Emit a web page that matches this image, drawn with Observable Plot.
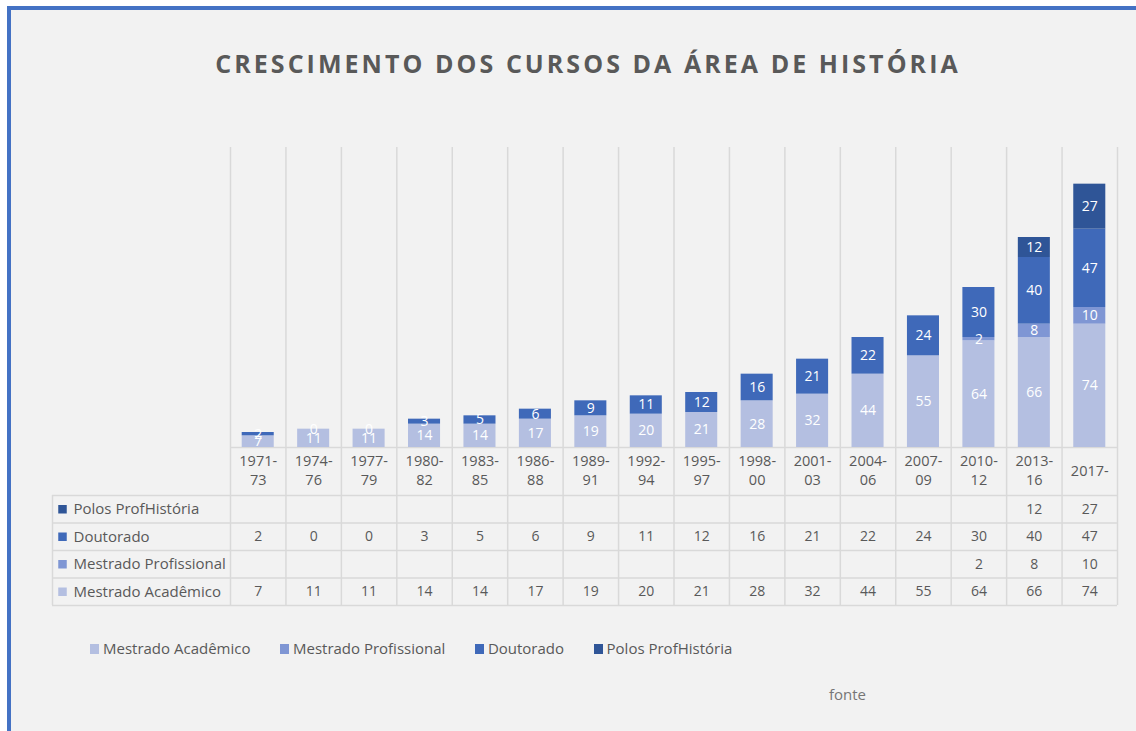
<!DOCTYPE html>
<html>
<head>
<meta charset="utf-8">
<script src="https://cdn.jsdelivr.net/npm/d3@7"></script>
<script src="https://cdn.jsdelivr.net/npm/@observablehq/plot@0.6"></script>
<style>
  html, body { margin: 0; padding: 0; background: #ffffff; }
  #page { position: relative; width: 1136px; height: 731px; overflow: hidden; background: #ffffff; font-family: "Open Sans", sans-serif; }
  #panel { position: absolute; left: 7px; top: 6px; right: 0; bottom: 0; background: #f2f2f2; border-left: 4px solid #4472c4; border-top: 4px solid #4472c4; }
  #title { position: absolute; left: 20px; top: 46px; width: 1136px; text-align: center; font-size: 25px; line-height: 34px; font-weight: 700; letter-spacing: 3.05px; color: #595959; white-space: nowrap; }
  #chart { position: absolute; left: 0; top: 100px; }
  #table { position: absolute; left: 0; top: 490px; }
  #legend { position: absolute; left: 90px; top: 638px; height: 21px; display: flex; gap: 29.5px; font-size: 15px; line-height: 21px; color: #595959; white-space: nowrap; }
  .leg { display: flex; align-items: center; }
  .leg i { display: inline-block; width: 9px; height: 10px; margin-right: 4px; margin-top: 1px; }
  #fonte { position: absolute; left: 829px; top: 684px; font-size: 15px; line-height: 20px; color: #767676; }
</style>
</head>
<body>
<div id="page">
  <div id="panel"></div>
  <div id="title">CRESCIMENTO DOS CURSOS DA ÁREA DE HISTÓRIA</div>
  <div id="chart"></div>
  <div id="table"></div>
  <div id="legend"></div>
  <div id="fonte">fonte</div>
</div>
<script>
// ---- data ----
const categoryLabels = ["1971-\n73","1974-\n76","1977-\n79","1980-\n82","1983-\n85","1986-\n88","1989-\n91","1992-\n94","1995-\n97","1998-\n00","2001-\n03","2004-\n06","2007-\n09","2010-\n12","2013-\n16","2017-"];
const seriesNames = ["Mestrado Acadêmico", "Mestrado Profissional", "Doutorado", "Polos ProfHistória"];
const mestradoAcademico    = [7, 11, 11, 14, 14, 17, 19, 20, 21, 28, 32, 44, 55, 64, 66, 74];
const mestradoProfissional = [null, null, null, null, null, null, null, null, null, null, null, null, null, 2, 8, 10];
const doutorado            = [2, 0, 0, 3, 5, 6, 9, 11, 12, 16, 21, 22, 24, 30, 40, 47];
const polosProfHistoria    = [null, null, null, null, null, null, null, null, null, null, null, null, null, null, 12, 27];
const seriesColors = ["#b4bfe1", "#7f96d4", "#3f69b9", "#2f5597"];

// ---- build tables ----
const seriesValues = [mestradoAcademico, mestradoProfissional, doutorado, polosProfHistoria];
const n = categoryLabels.length;
const rows = [];
categoryLabels.forEach((c, i) => {
  seriesNames.forEach((s, k) => {
    const v = seriesValues[k][i];
    if (v != null) rows.push({i, category: c, series: s, value: v});
  });
});
const labelData = categoryLabels.map((label, i) => ({i, label, multi: label.includes("\n")}));
// table rows from top to bottom: reversed series order
const tableOrder = seriesNames.map((s, k) => k).reverse();
const cells = [];
tableOrder.forEach((k, r) => {
  seriesValues[k].forEach((v, i) => { if (v != null) cells.push({i, r, value: v}); });
});
const rowLabels = tableOrder.map((k, r) => ({r, name: seriesNames[k], color: seriesColors[k]}));

// ---- layout ----
const W = 1136;
const frameLeft = 52, plotLeft = 230, plotRight = 1117;
const colW = (plotRight - plotLeft) / n;
const L = (plotLeft - frameLeft) / colW;
const inset = 11.7;
const grid = "#d9d9d9";
const textColor = "#595959";
const baseStyle = {background: "transparent", fontFamily: "'Open Sans', sans-serif", fontSize: "14px", color: textColor, overflow: "visible"};

const chart = Plot.plot({
  width: W, height: 395,
  marginTop: 47, marginBottom: 48, marginLeft: frameLeft, marginRight: W - plotRight,
  style: baseStyle,
  x: {type: "linear", domain: [-L, n], axis: null},
  y: {domain: [0, 180], axis: null},
  color: {domain: seriesNames, range: seriesColors},
  marks: [
    Plot.ruleX(d3.range(n + 1), {stroke: grid, strokeWidth: 1.5, insetBottom: -48}),
    Plot.ruleY([0], {x1: 0, x2: n, stroke: grid, strokeWidth: 1.5}),
    Plot.rectY(rows, {x1: "i", x2: d => d.i + 1, y: "value", fill: "series", insetLeft: inset, insetRight: inset}),
    Plot.text(rows, Plot.stackY({x: d => d.i + 0.5, y: "value", text: d => String(d.value), fill: "white", fontSize: 14})),
    Plot.text(labelData.filter(d => d.multi), {x: d => d.i + 0.5, text: "label", frameAnchor: "bottom", lineAnchor: "top", dy: 5, lineHeight: 1.31, fill: textColor, fontSize: 14.5}),
    Plot.text(labelData.filter(d => !d.multi), {x: d => d.i + 0.5, text: "label", frameAnchor: "bottom", dy: 28, fill: textColor, fontSize: 14.5})
  ]
});
document.getElementById("chart").appendChild(chart);

const table = Plot.plot({
  width: W, height: 120,
  marginTop: 5, marginBottom: 5, marginLeft: frameLeft, marginRight: W - plotRight,
  style: baseStyle,
  x: {type: "linear", domain: [-L, n], axis: null},
  y: {domain: [0, 4], reverse: true, axis: null},
  marks: [
    Plot.ruleY(d3.range(5), {stroke: grid, strokeWidth: 1.5}),
    Plot.ruleX([-L, ...d3.range(n + 1)], {stroke: grid, strokeWidth: 1.5}),
    Plot.text(cells, {x: d => d.i + 0.5, y: d => d.r + 0.5, text: d => String(d.value), fill: textColor, fontSize: 14}),
    Plot.dot(rowLabels, {x: -L, y: d => d.r + 0.5, dx: 10, symbol: "square", r: 4.8, fill: d => d.color, stroke: "none"}),
    Plot.text(rowLabels, {x: -L, y: d => d.r + 0.5, dx: 21, text: "name", textAnchor: "start", fill: textColor, fontSize: 15})
  ]
});
document.getElementById("table").appendChild(table);

// ---- legend ----
const legend = document.getElementById("legend");
seriesNames.forEach((s, k) => {
  const item = document.createElement("div");
  item.className = "leg";
  item.innerHTML = `<i style="background:${seriesColors[k]}"></i><span>${s}</span>`;
  legend.appendChild(item);
});
</script>
</body>
</html>
